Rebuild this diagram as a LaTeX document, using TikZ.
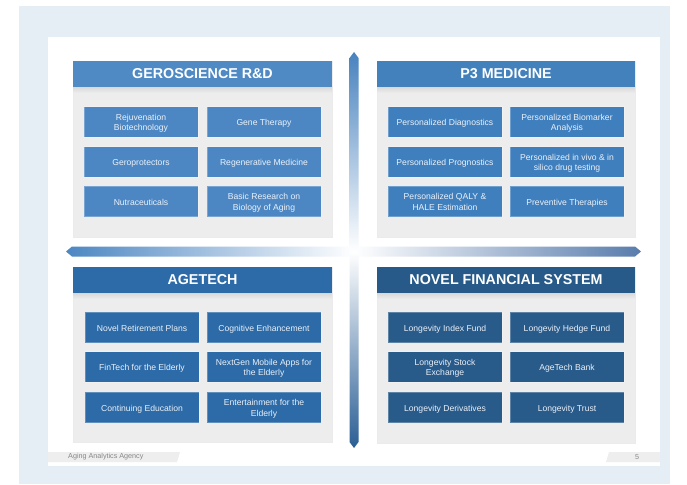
\documentclass[tikz,border=0pt]{standalone}
\usepackage{fontspec}
\setmainfont{Liberation Sans}
\definecolor{bgblue}{RGB}{229,237,245}
\definecolor{panelgray}{RGB}{237,237,237}
\definecolor{hA}{RGB}{79,138,196}
\definecolor{bA}{RGB}{76,135,196}
\definecolor{hB}{RGB}{66,129,188}
\definecolor{bB}{RGB}{64,127,189}
\definecolor{hC}{RGB}{45,107,168}
\definecolor{bC}{RGB}{44,106,168}
\definecolor{hD}{RGB}{39,90,137}
\definecolor{bD}{RGB}{40,90,138}
\definecolor{boxtext}{RGB}{235,241,248}
\definecolor{vtop}{RGB}{72,130,190}
\definecolor{vbot}{RGB}{42,94,148}
\definecolor{hleft}{RGB}{76,134,194}
\definecolor{hright}{RGB}{88,124,172}
\definecolor{footgray}{RGB}{238,238,238}
\definecolor{foottext}{RGB}{135,135,135}
\newcommand\itemtxt[1]{\raisebox{-1.4pt}[\height][\depth]{\begin{tabular}{@{}c@{}}#1\end{tabular}}}
\begin{document}
\begin{tikzpicture}[x=1pt,y=-1pt,
  hdr/.style={minimum width=259pt, minimum height=26pt, inner sep=0pt, text=white,
    font=\fontsize{14.3}{16}\selectfont\bfseries},
  item/.style={minimum width=114pt, minimum height=30.5pt, inner sep=0pt,
    text=boxtext, font=\fontsize{8.6}{10.6}\selectfont, draw=white, draw opacity=0.25, line width=0.6pt},
  panel/.style={fill=panelgray, draw=black!8, line width=0.4pt},
  foot/.style={text=foottext, font=\fontsize{7.2}{8}\selectfont, inner sep=0pt}
]
\useasboundingbox (0,0) rectangle (687,484);
\fill[bgblue] (19,6) rectangle (670,484);
\fill[white] (48,37) rectangle (660,466);

% panels
\fill[panel] (73,61) rectangle (332,237);
\fill[panel] (377,61) rectangle (635,237);
\fill[panel] (73,267) rectangle (332,442);
\fill[panel] (377,267) rectangle (635,443);
% header shadows
\shade[top color=black!15, bottom color=panelgray] (73,87) rectangle (332,93);
\shade[top color=black!15, bottom color=panelgray] (377,87) rectangle (635,93);
\shade[top color=black!15, bottom color=panelgray] (73,293) rectangle (332,299);
\shade[top color=black!15, bottom color=panelgray] (377,293) rectangle (635,299);

% axis arrows
\shade[left color=hleft, right color=white] (72,246.5) -- (66,251.5) -- (72,256.5) -- (354,256.5) -- (354,246.5) -- cycle;
\shade[left color=white, right color=hright] (354,246.5) -- (635,246.5) -- (641,251.5) -- (635,256.5) -- (354,256.5) -- cycle;
\shade[top color=vtop, bottom color=white] (349.5,58) -- (354,52) -- (358.5,58) -- (358.5,251.5) -- (349.5,251.5) -- cycle;
\shade[top color=white, bottom color=vbot] (349.5,251.5) -- (358.5,251.5) -- (358.5,442) -- (354,448) -- (349.5,442) -- cycle;

% headers
\node[hdr, fill=hA] (hA) at (202.5,74) {GEROSCIENCE R\&D};
\node[hdr, fill=hB, minimum width=258pt] (hB) at (506,74) {P3 MEDICINE};
\node[hdr, fill=hC] (hC) at (202.5,280) {AGETECH};
\node[hdr, fill=hD, minimum width=258pt] (hD) at (506,280) {NOVEL FINANCIAL SYSTEM};

% Geroscience
\node[item, fill=bA] (a1) at (141,122) {\itemtxt{Rejuvenation\\Biotechnology}};
\node[item, fill=bA] (a2) at (264,122) {\itemtxt{Gene Therapy}};
\node[item, fill=bA] (a3) at (141,162) {\itemtxt{Geroprotectors}};
\node[item, fill=bA] (a4) at (264,162) {\itemtxt{Regenerative Medicine}};
\node[item, fill=bA] (a5) at (141,201.5) {\itemtxt{Nutraceuticals}};
\node[item, fill=bA] (a6) at (264,201.5) {\itemtxt{Basic Research on\\Biology of Aging}};

% P3 medicine
\node[item, fill=bB] (b1) at (445,122) {\itemtxt{Personalized Diagnostics}};
\node[item, fill=bB] (b2) at (567,122) {\itemtxt{Personalized Biomarker\\Analysis}};
\node[item, fill=bB] (b3) at (445,162) {\itemtxt{Personalized Prognostics}};
\node[item, fill=bB] (b4) at (567,162) {\itemtxt{Personalized in vivo \& in\\silico drug testing}};
\node[item, fill=bB] (b5) at (445,201.5) {\itemtxt{Personalized QALY \&\\HALE Estimation}};
\node[item, fill=bB] (b6) at (567,201.5) {\itemtxt{Preventive Therapies}};

% AgeTech
\node[item, fill=bC] (c1) at (142,327.5) {\itemtxt{Novel Retirement Plans}};
\node[item, fill=bC] (c2) at (264,327.5) {\itemtxt{Cognitive Enhancement}};
\node[item, fill=bC] (c3) at (142,367) {\itemtxt{FinTech for the Elderly}};
\node[item, fill=bC] (c4) at (264,367) {\itemtxt{NextGen Mobile Apps for\\the Elderly}};
\node[item, fill=bC] (c5) at (142,407.5) {\itemtxt{Continuing Education}};
\node[item, fill=bC] (c6) at (264,407.5) {\itemtxt{Entertainment for the\\Elderly}};

% Novel financial system
\node[item, fill=bD] (d1) at (445,327.5) {\itemtxt{Longevity Index Fund}};
\node[item, fill=bD] (d2) at (567,327.5) {\itemtxt{Longevity Hedge Fund}};
\node[item, fill=bD] (d3) at (445,367) {\itemtxt{Longevity Stock\\Exchange}};
\node[item, fill=bD] (d4) at (567,367) {\itemtxt{AgeTech Bank}};
\node[item, fill=bD] (d5) at (445,407.5) {\itemtxt{Longevity Derivatives}};
\node[item, fill=bD] (d6) at (567,407.5) {\itemtxt{Longevity Trust}};

% footer
\fill[footgray] (48,452) -- (180,452) -- (177,462) -- (48,462) -- cycle;
\fill[footgray] (609,452) -- (660,452) -- (660,462) -- (606,462) -- cycle;
\node[foot, anchor=west] (ftl) at (68,457) {Aging Analytics Agency};
\node[foot] (ftr) at (637,457) {5};
\end{tikzpicture}
\end{document}
